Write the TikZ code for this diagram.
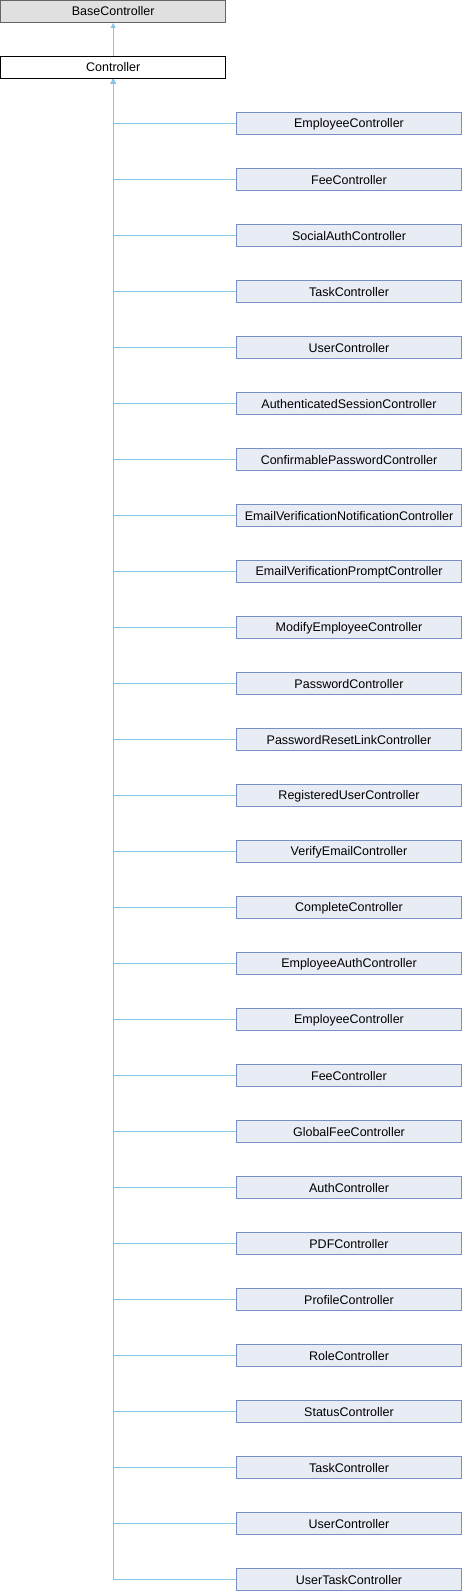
\documentclass[tikz,border=0pt]{standalone}
\usepackage{fontspec}
\setmainfont{Liberation Sans}
\usetikzlibrary{arrows.meta}
\definecolor{edgecol}{HTML}{8AC4EC}
\definecolor{childfill}{HTML}{E8ECF5}
\definecolor{childdraw}{HTML}{7890C8}
\definecolor{basefill}{HTML}{E0E0E0}
\definecolor{basedraw}{HTML}{666666}
\tikzset{
  x=1pt, y=1pt,
  cls/.style={draw, line width=1pt, minimum width=224.5pt, minimum height=22pt, inner sep=0pt,
    font=\fontsize{12.5}{14}\selectfont, anchor=center},
  basecls/.style={cls, fill=basefill, draw=basedraw},
  ctrlcls/.style={cls, fill=white, draw=black},
  childcls/.style={cls, fill=childfill, draw=childdraw},
  inh/.style={draw=edgecol, line width=1pt, -{Triangle[width=5pt,length=5pt,fill=edgecol]}},
}
\begin{document}
\begin{tikzpicture}
\useasboundingbox (0,0) rectangle (462,-1592);
\node[basecls] (base) at (113.2,-11.5) {BaseController};
\node[ctrlcls] (ctrl) at (113.2,-67.5) {Controller};
\draw[inh] (ctrl.north) -- (base.south);
\foreach \n [count=\i from 0] in {EmployeeController, FeeController, SocialAuthController, TaskController, UserController, AuthenticatedSessionController, ConfirmablePasswordController, EmailVerificationNotificationController, EmailVerificationPromptController, ModifyEmployeeController, PasswordController, PasswordResetLinkController, RegisteredUserController, VerifyEmailController, CompleteController, EmployeeAuthController, EmployeeController, FeeController, GlobalFeeController, AuthController, PDFController, ProfileController, RoleController, StatusController, TaskController, UserController, UserTaskController} {
  \node[childcls] (c\i) at (349,{-123.8-56*\i}) {\n};
  \draw[inh] (c\i.west) -| (ctrl.south);
}
\end{tikzpicture}
\end{document}
